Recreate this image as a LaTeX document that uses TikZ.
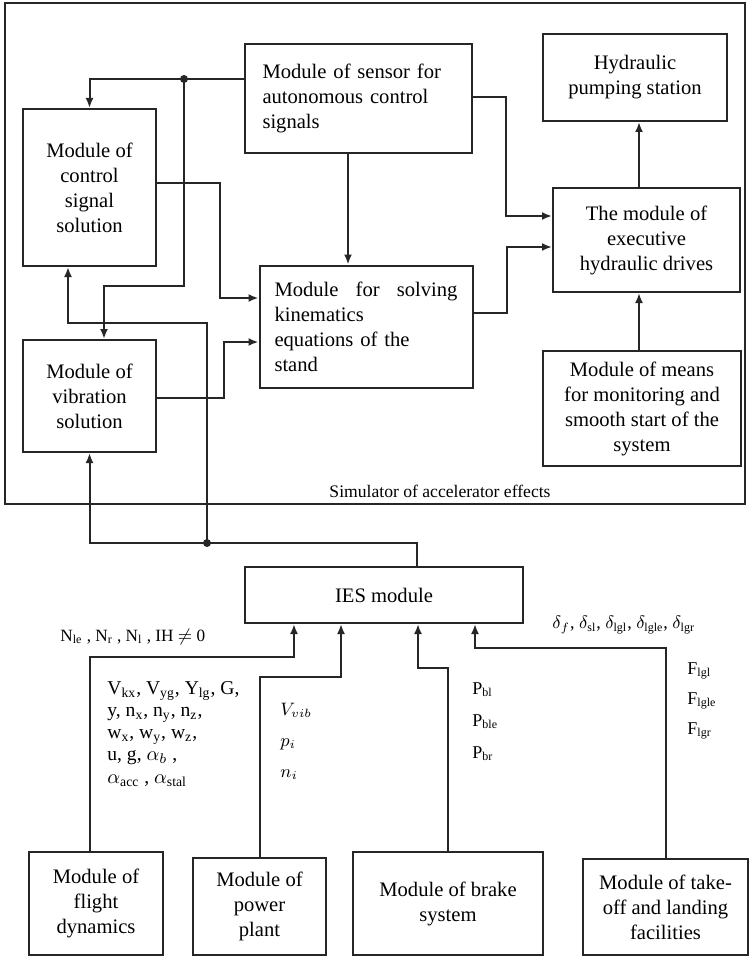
\documentclass[tikz,border=0pt]{standalone}
\usepackage{amsmath}
\usepackage{fontspec}
\setmainfont{Liberation Serif}
\usetikzlibrary{arrows.meta, positioning, calc}

\begin{document}
\begin{tikzpicture}[
  x=0.5pt, y=-0.5pt,
  every node/.style={font=\fontsize{10.3}{12.5}\selectfont},
  modbox/.style={rectangle, draw=black!85, line width=1pt, fill=white,
    align=center, inner sep=0pt},
  arr/.style={-{Latex[length=5pt,width=4pt]}, line width=1pt, black!85},
  junction/.style={circle, fill=black!85, inner sep=0pt, minimum size=4pt},
  param/.style={font=\fontsize{9}{11}\selectfont, inner sep=0pt, align=left}
]
\useasboundingbox (0,0) rectangle (749,957);

% ===== SIMULATOR FRAME =====
\draw[line width=1pt, black!85] (5,3) rectangle (745,504);
\node[font=\fontsize{8.8}{10}\selectfont] (simlbl) at (440,491) {Simulator of accelerator effects};

% ===== SIMULATOR MODULES =====
\node[modbox, minimum width=113.5pt, minimum height=54.5pt, align=left, text width=96pt] (sensor) at (358.5,98.5)
  {Module of sensor for\\autonomous control\\signals};
\node[modbox, minimum width=66.5pt, minimum height=78.5pt] (ctrl) at (89.5,187.5)
  {Module of\\control\\signal\\solution};
\node[modbox, minimum width=66.5pt, minimum height=56pt] (vib) at (89.5,396)
  {Module of\\vibration\\solution};
\node[modbox, minimum width=106.5pt, minimum height=61pt, align=left, text width=91.5pt] (kin) at (366,326.5)
  {Module\hfill for\hfill solving\\kinematics\\equations of the\\stand};
\node[modbox, minimum width=92pt, minimum height=43.5pt] (pump) at (635,77.5)
  {Hydraulic\\pumping station};
\node[modbox, minimum width=93.5pt, minimum height=52pt] (exec) at (646.5,240)
  {The module of\\executive\\hydraulic drives};
\node[modbox, minimum width=99pt, minimum height=57.5pt] (mon) at (642,408.5)
  {Module of means\\for monitoring and\\smooth start of the\\system};

% ===== IES AND SOURCE MODULES =====
\node[modbox, minimum width=139pt, minimum height=28pt] (ies) at (384,595) {IES module};
\node[modbox, minimum width=67pt, minimum height=51.5pt] (flight) at (96,903.5)
  {Module of\\flight\\dynamics};
\node[modbox, minimum width=66.5pt, minimum height=48.5pt] (power) at (259.5,906.5)
  {Module of\\power\\plant};
\node[modbox, minimum width=95pt, minimum height=51.5pt] (brake) at (448,903.5)
  {Module of brake\\system};
\node[modbox, minimum width=82.5pt, minimum height=48pt] (takeoff) at (665.5,907)
  {Module of take-\\off and landing\\facilities};

% ===== JUNCTIONS AND BENDS =====
\node[junction] (j1) at (184,79) {};
\node[junction] (j2) at (207,543) {};
\coordinate (b1) at (104,286);
\coordinate (b2) at (68,323);
\coordinate (b3) at (294,657);
\coordinate (b4) at (341,677);
\coordinate (b5) at (418,668);
\coordinate (b6) at (475,648);

% ===== CONNECTORS INSIDE THE SIMULATOR =====
\draw[arr] (sensor.west |- j1) -- (j1.center) -| (ctrl.north);
\draw[arr] (j1.center) |- (b1) -- (b1 |- vib.north);
\draw[arr] ($(ctrl.east)+(0,-4.5)$) -- ++(63,0) |- ($(kin.west)+(0,-28.5)$);
\draw[arr] ($(vib.east)+(0,2)$) -- ++(67,0) |- ($(kin.west)+(0,15.5)$);
\draw[arr] ($(sensor.south)+(-10.5,0)$) coordinate (s1) -- (s1 |- kin.north);
\draw[arr] ($(sensor.east)+(0,-1.5)$) -- ++(33,0) |- ($(exec.west)+(0,-24)$);
\draw[arr] ($(kin.east)+(0,-13.5)$) -- ++(33,0) |- ($(exec.west)+(0,7)$);
\draw[arr] ($(exec.north)+(-7.5,0)$) coordinate (e1) -- (e1 |- pump.south);
\draw[arr] ($(mon.north)+(-3,0)$) coordinate (m1) -- (m1 |- exec.south);

% ===== FEEDBACK FROM IES =====
\draw[arr] ($(ies.north)+(33,0)$) |- (j2.center) -| (vib.south);
\draw[arr] (j2.center) |- (b2) -- (b2 |- ctrl.south);

% ===== INPUTS TO IES =====
\draw[arr] ($(flight.north)+(-6,0)$) |- (b3) -- (b3 |- ies.south);
\draw[arr] (power.north) |- (b4) -- (b4 |- ies.south);
\draw[arr] (brake.north) |- (b5) -- (b5 |- ies.south);
\draw[arr] (takeoff.north) |- (b6) -- (b6 |- ies.south);

% ===== SIGNAL LABELS =====
\node[param, anchor=west, font=\fontsize{8.6}{11}\selectfont] (nlbl) at (60,637)
  {N\textsubscript{le} , N\textsubscript{r} , N\textsubscript{l} , IH $\neq$ 0};
\node[param, anchor=north west, font=\fontsize{9.8}{11.1}\selectfont] (flbl) at (107,681)
  {V\textsubscript{kx}, V\textsubscript{yg}, Y\textsubscript{lg}, G,\\
   y, n\textsubscript{x}, n\textsubscript{y}, n\textsubscript{z},\\
   w\textsubscript{x}, w\textsubscript{y}, w\textsubscript{z},\\
   u, g, $\alpha_b$ ,\\
   $\alpha_\text{acc}$ , $\alpha_\text{stal}$};
\node[param, anchor=north west, font=\fontsize{9}{15.5}\selectfont] (plbl) at (280,703)
  {$V_{vib}$\\$p_i$\\$n_i$};
\node[param, anchor=north west, font=\fontsize{9}{16}\selectfont] (blbl) at (472,682)
  {P\textsubscript{bl}\\P\textsubscript{ble}\\P\textsubscript{br}};
\node[param, anchor=west] (dlbl) at (552,625)
  {$\delta_f$, $\delta_\text{sl}$, $\delta_\text{lgl}$, $\delta_\text{lgle}$, $\delta_\text{lgr}$};
\node[param, anchor=north west, font=\fontsize{9}{15}\selectfont] (tlbl) at (687,662)
  {F\textsubscript{lgl}\\F\textsubscript{lgle}\\F\textsubscript{lgr}};
\end{tikzpicture}
\end{document}
